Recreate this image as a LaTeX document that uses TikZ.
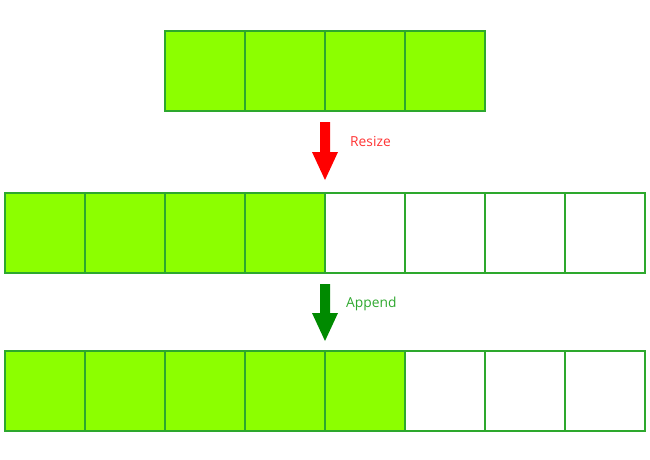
\documentclass[tikz,border=0pt]{standalone}
\usepackage{fontspec}
\setmainfont{Open Sans}
\begin{document}
\begin{tikzpicture}[x=1pt,y=-1pt,
  cell/.style={draw=boxedge,line width=1.2pt,minimum width=80pt,minimum height=80pt,inner sep=0pt,outer sep=0pt,anchor=north west},
  full/.style={cell,fill=boxfill},
  empty/.style={cell,fill=white},
  lab/.style={font=\fontsize{13.8}{15}\selectfont,anchor=west,inner sep=0pt}]
\definecolor{boxfill}{HTML}{8CFF00}
\definecolor{boxedge}{HTML}{2DA82D}
\definecolor{arrred}{HTML}{FF0000}
\definecolor{txtred}{HTML}{FF3333}
\definecolor{arrgreen}{HTML}{008A00}
\definecolor{txtgreen}{HTML}{2FA82F}
\useasboundingbox (0,0) rectangle (650,460);
% top row
\foreach \i in {0,...,3} \node[full] (t\i) at (165+80*\i,31) {};
% middle row
\foreach \i in {0,...,3} \node[full] (m\i) at (5+80*\i,193) {};
\foreach \i in {4,...,7} \node[empty] (m\i) at (5+80*\i,193) {};
% bottom row
\foreach \i in {0,...,4} \node[full] (b\i) at (5+80*\i,351) {};
\foreach \i in {5,...,7} \node[empty] (b\i) at (5+80*\i,351) {};
% arrows
\fill[arrred] (320,122) -- (330,122) -- (330,152) -- (338,152) -- (325,180) -- (312,152) -- (320,152) -- cycle;
\node[lab,text=txtred] (rs) at (350,142) {Resize};
\fill[arrgreen] (320,284) -- (330,284) -- (330,313) -- (338,313) -- (325,341) -- (312,313) -- (320,313) -- cycle;
\node[lab,text=txtgreen] (ap) at (346,304) {Append};
\end{tikzpicture}
\end{document}
